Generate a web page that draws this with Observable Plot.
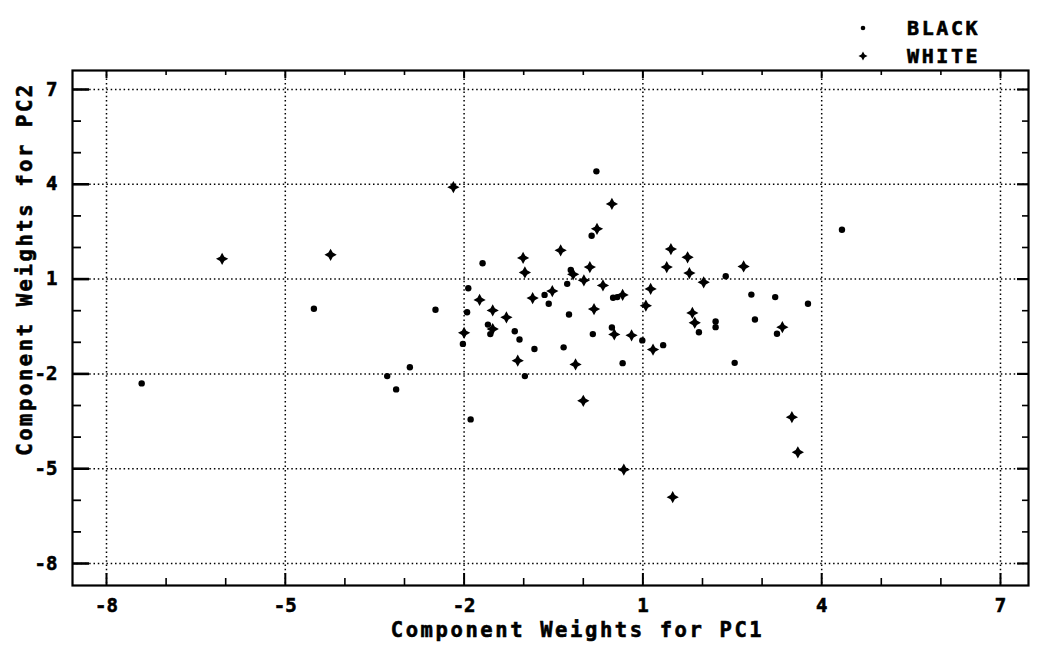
<!DOCTYPE html>
<html>
<head>
<meta charset="utf-8">
<script src="https://cdn.jsdelivr.net/npm/d3@7"></script>
<script src="https://cdn.jsdelivr.net/npm/@observablehq/plot@0.6"></script>
<style>
  html, body { margin: 0; padding: 0; background: #fff; }
  #wrap { width: 1040px; height: 648px; position: relative; overflow: hidden; background: #fff; }
  #legend { position: relative; width: 1040px; height: 65px; font-family: "DejaVu Sans Mono", monospace; font-weight: bold; font-size: 20px; letter-spacing: 2.6px; color: #000; -webkit-text-stroke: 0.6px #000; }
  .item { position: absolute; left: 855px; height: 18px; display: flex; align-items: center; }
  .item svg { display: block; }
  .item span { margin-left: 36px; line-height: 18px; }
</style>
</head>
<body>
<div id="wrap">
  <div id="legend"></div>
  <div id="chart"></div>
</div>
<script>
// ---- data ----
const blackX = [-7.41,-4.52,-3.29,-3.14,-2.91,-2.48,-1.93,-1.95,-2.02,-1.89,-1.69,-1.60,-1.56,-1.15,-1.07,-0.98,-0.82,-0.65,-0.58,-0.33,-0.24,-0.21,-0.27,0.14,0.22,0.16,0.50,0.57,0.48,0.66,0.99,1.34,1.94,2.22,2.22,2.39,2.54,2.82,2.88,3.22,3.25,3.77,4.34];
const blackY = [-2.30,0.06,-2.07,-2.49,-1.79,0.03,0.71,-0.05,-1.05,-3.44,1.50,-0.44,-0.74,-0.65,-0.91,-2.07,-1.21,0.50,0.22,-1.16,-0.12,1.29,0.85,2.37,4.41,-0.74,0.41,0.43,-0.53,-1.66,-0.94,-1.09,-0.68,-0.34,-0.52,1.09,-1.65,0.51,-0.28,0.43,-0.73,0.22,2.56];
const whiteX = [-6.06,-4.24,-2.18,-2.00,-1.74,-1.52,-1.29,-1.52,-1.10,-1.01,-0.98,-0.85,-0.52,-0.38,-0.17,-0.13,0.00,0.01,0.11,0.18,0.23,0.33,0.48,0.52,0.66,0.68,0.81,1.05,1.13,1.17,1.40,1.47,1.50,1.75,1.78,1.83,1.87,2.02,2.69,3.34,3.50,3.60];
const whiteY = [1.64,1.77,3.91,-0.70,0.34,0.01,-0.21,-0.58,-1.58,1.67,1.21,0.40,0.62,1.91,1.15,-1.70,-2.85,0.96,1.38,0.05,2.59,0.80,3.38,-0.75,0.50,-5.03,-0.78,0.16,0.69,-1.23,1.38,1.95,-5.90,1.69,1.19,-0.07,-0.38,0.90,1.40,-0.52,-3.37,-4.48];
const seriesNames = ["BLACK", "WHITE"];
const xTicks = [-8, -5, -2, 1, 4, 7];
const yTicks = [7, 4, 1, -2, -5, -8];
const xMinorTicks = [-7, -6, -4, -3, -1, 0, 2, 3, 5, 6];
const yMinorTicks = [6, 5, 3, 2, 0, -1, -3, -4, -6, -7];
const xTitle = "Component Weights for PC1";
const yTitle = "Component Weights for PC2";

// ---- build tables ----
const black = blackX.map((x, i) => ({x, y: blackY[i]}));
const white = whiteX.map((x, i) => ({x, y: whiteY[i]}));

// four-pointed star symbol (the "+" marker)
const star4 = {
  draw(ctx, size) {
    const r = Math.sqrt(size / Math.PI);
    const a = r * 1.75, w = r * 0.62;
    ctx.moveTo(0, -a); ctx.lineTo(w, -w); ctx.lineTo(a, 0); ctx.lineTo(w, w);
    ctx.lineTo(0, a); ctx.lineTo(-w, w); ctx.lineTo(-a, 0); ctx.lineTo(-w, -w);
    ctx.closePath();
  }
};

const W = 1040, H = 583, mT = 5, mB = 63, mL = 72, mR = 12;
const innerH = H - mT - mB, innerW = W - mL - mR;
const font = {fontFamily: "DejaVu Sans Mono", fontWeight: "bold"};
const grid = {stroke: "#000", strokeOpacity: 1, strokeWidth: 1.5, strokeDasharray: "1.5,2.8"};

const plot = Plot.plot({
  width: W, height: H,
  marginTop: mT, marginBottom: mB, marginLeft: mL, marginRight: mR,
  style: {fontFamily: "DejaVu Sans Mono", background: "#fff", color: "#000", overflow: "visible"},
  x: {domain: [-8.5705, 7.47], label: null},
  y: {domain: [-8.696, 7.601], label: null},
  marks: [
    Plot.gridX({ticks: xTicks, ...grid}),
    Plot.gridY({ticks: yTicks, ...grid}),
    // inward tick marks
    Plot.tickX(xTicks, {x: d => d, insetTop: innerH - 12, stroke: "#000", strokeWidth: 2}),
    Plot.tickX(xMinorTicks, {x: d => d, insetTop: innerH - 7, stroke: "#000", strokeWidth: 1.6}),
    Plot.tickX(xTicks, {x: d => d, insetBottom: innerH - 8, stroke: "#000", strokeWidth: 2}),
    Plot.tickX(xMinorTicks, {x: d => d, insetBottom: innerH - 5, stroke: "#000", strokeWidth: 1.6}),
    Plot.tickY(yTicks, {y: d => d, insetRight: innerW - 17, stroke: "#000", strokeWidth: 2.6}),
    Plot.tickY(yMinorTicks, {y: d => d, insetRight: innerW - 9, stroke: "#000", strokeWidth: 1.8}),
    Plot.tickY(yTicks, {y: d => d, insetLeft: innerW - 11, stroke: "#000", strokeWidth: 2.2}),
    Plot.tickY(yMinorTicks, {y: d => d, insetLeft: innerW - 6, stroke: "#000", strokeWidth: 1.6}),
    // tick labels
    Plot.axisX({ticks: xTicks, tickSize: 0, tickPadding: 13, tickFormat: d => String(d), label: null, fontSize: 19, ...font}),
    Plot.axisY({ticks: yTicks, tickSize: 0, tickPadding: 15, tickFormat: d => String(d), label: null, fontSize: 19, ...font}),
    // axis titles
    Plot.text([xTitle], {frameAnchor: "bottom", dx: 27, dy: 45, fontSize: 20.5, textAnchor: "middle", lineAnchor: "middle", ...font}),
    Plot.text([yTitle], {frameAnchor: "left", rotate: -90, dx: -47, dy: -59, fontSize: 20.5, textAnchor: "middle", lineAnchor: "middle", ...font}),
    // data
    Plot.dot(black, {x: "x", y: "y", r: 3.2, fill: "#000", stroke: "none"}),
    Plot.dot(white, {x: "x", y: "y", r: 3.5, symbol: star4, fill: "#000", stroke: "none"}),
    Plot.frame({stroke: "#000", strokeWidth: 2.2})
  ]
});
document.getElementById("chart").appendChild(plot);

// heavier, wider plotter-style lettering
const svgText = d3.select(plot).selectAll("text");
svgText.style("stroke", "#000").style("stroke-width", "0.6px").style("paint-order", "normal");
svgText.filter(function() { return this.textContent.startsWith("Component"); })
  .style("letter-spacing", "2.6px");

// legend (above the SVG)
const legend = d3.select("#legend");
const legendSymbols = [
  {name: seriesNames[0], top: 19, draw: g => g.append("circle").attr("cx", 8).attr("cy", 9).attr("r", 2.3).attr("fill", "#000")},
  {name: seriesNames[1], top: 47, draw: g => g.append("path").attr("transform", "translate(8,9)").attr("d", d3.symbol(star4, Math.PI * 2.6 * 2.6)()).attr("fill", "#000")}
];
legendSymbols.forEach(s => {
  const it = legend.append("div").attr("class", "item").style("top", s.top + "px");
  const sv = it.append("svg").attr("width", 16).attr("height", 18);
  s.draw(sv);
  it.append("span").text(s.name);
});
</script>
</body>
</html>
